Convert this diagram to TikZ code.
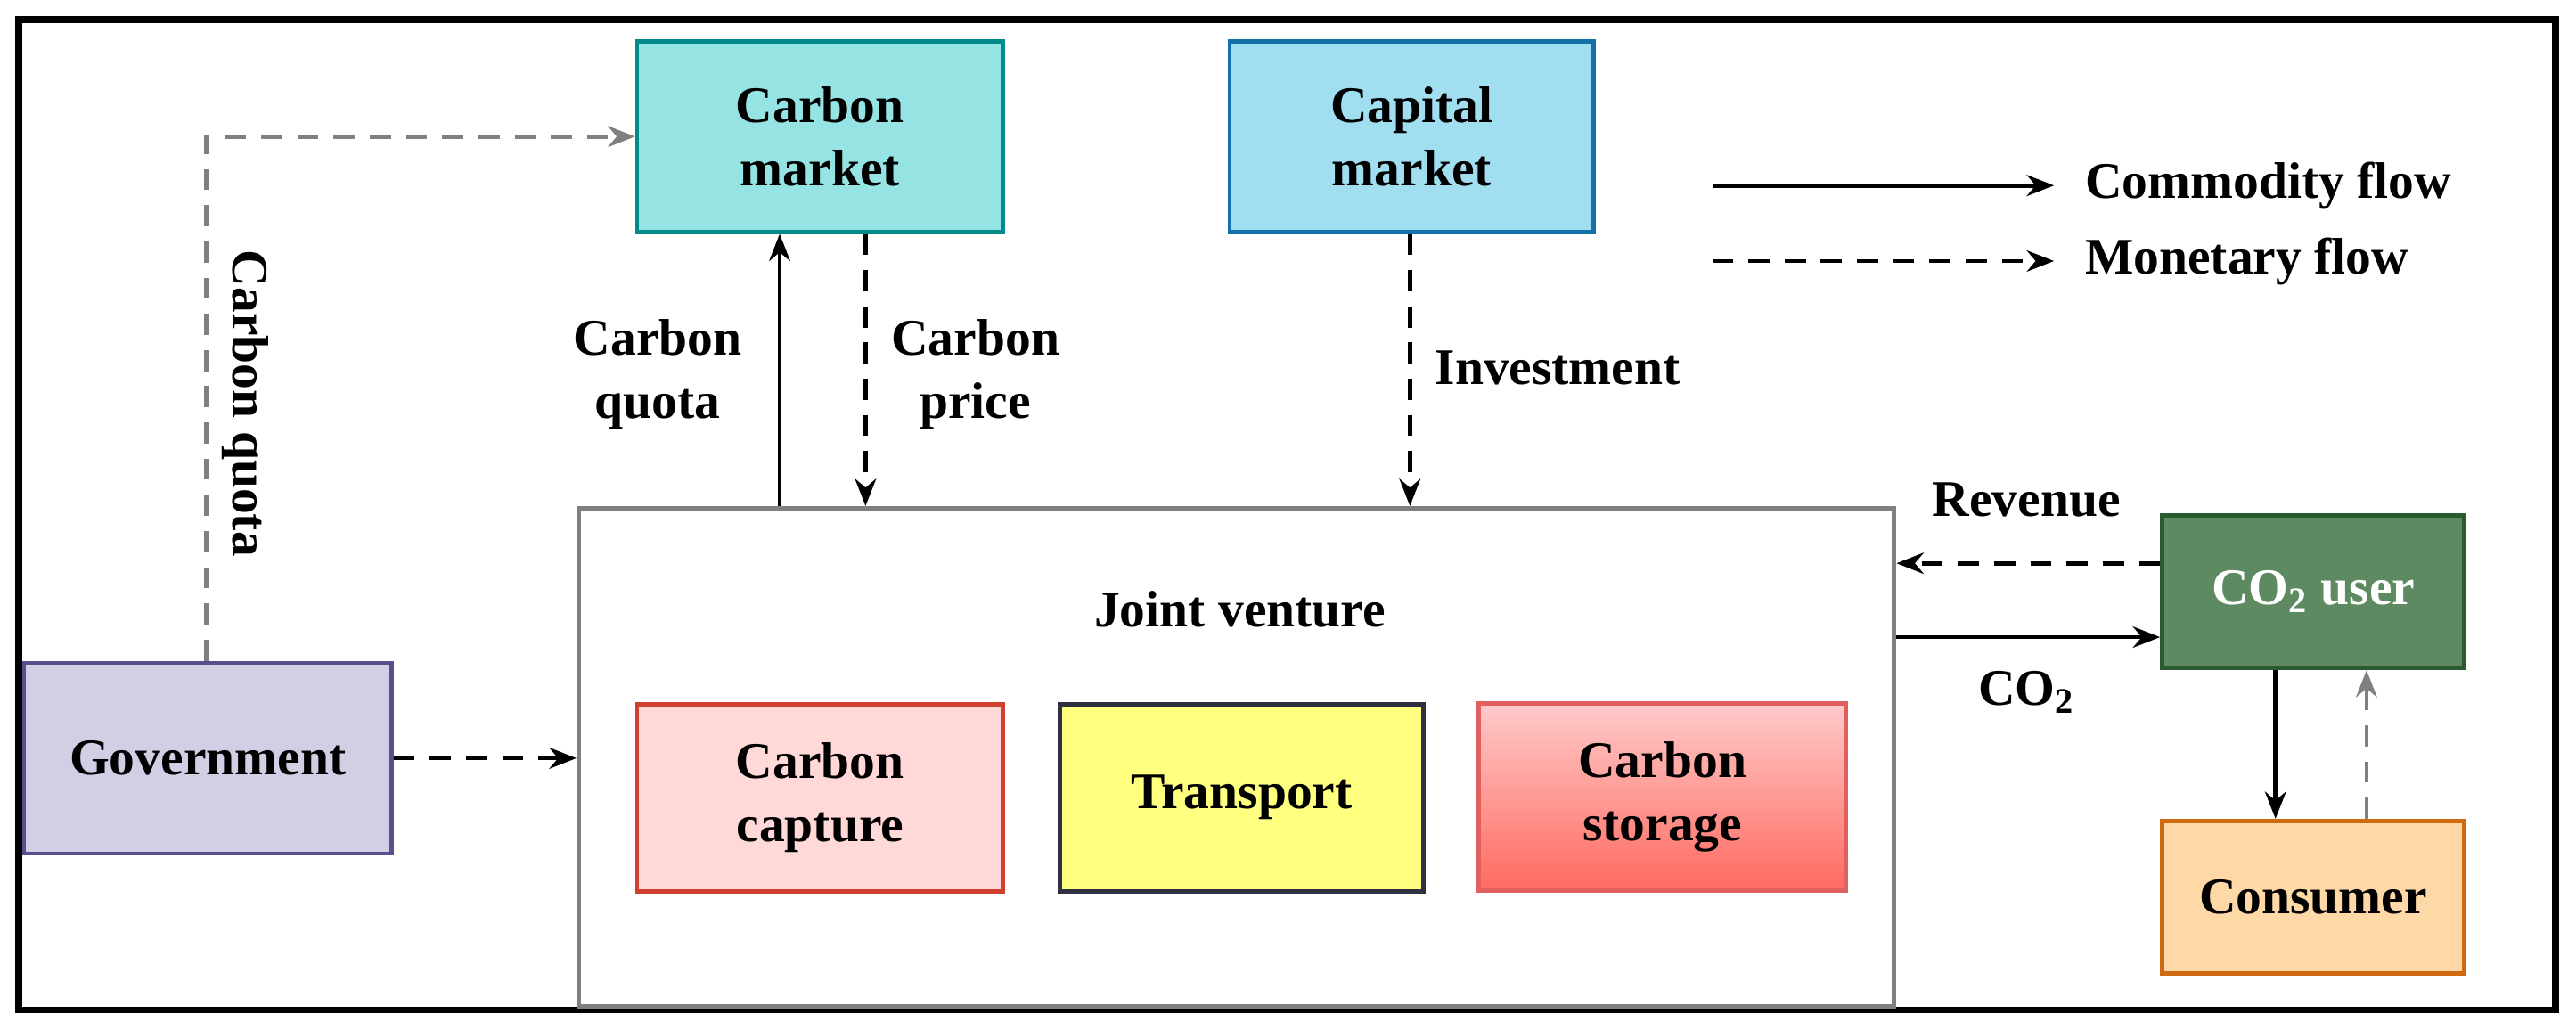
\documentclass[tikz,border=0pt]{standalone}
\usepackage{fontspec}
\setmainfont{Liberation Serif}
\usetikzlibrary{arrows.meta, positioning}
\definecolor{cmfill}{HTML}{96E3E3}
\definecolor{cmline}{HTML}{008A8A}
\definecolor{kmfill}{HTML}{A0DEF0}
\definecolor{kmline}{HTML}{1472A8}
\definecolor{govfill}{HTML}{D2CEE4}
\definecolor{govline}{HTML}{5A4E8C}
\definecolor{ccfill}{HTML}{FFD8D8}
\definecolor{ccline}{HTML}{D04030}
\definecolor{trfill}{HTML}{FFFF80}
\definecolor{trline}{HTML}{303040}
\definecolor{cstop}{HTML}{FFCACA}
\definecolor{csbot}{HTML}{FF6A60}
\definecolor{csline}{HTML}{E06060}
\definecolor{usfill}{HTML}{5E8A62}
\definecolor{usline}{HTML}{2A5A30}
\definecolor{cofill}{HTML}{FFD8A8}
\definecolor{coline}{HTML}{D06A10}
\tikzset{>={Stealth[length=9pt,width=7pt]},
box/.style={draw, line width=1.4pt, align=center, inner sep=0pt,
  font=\bfseries\fontsize{17}{21}\selectfont},
lbl/.style={align=center, font=\bfseries\fontsize{17}{21}\selectfont},
comm/.style={->, line width=1.4pt},
mon/.style={->, line width=1.4pt, dash pattern=on 7pt off 5pt},
}

\begin{document}
\begin{tikzpicture}[x=0.02cm, y=-0.02cm]
    \useasboundingbox (0,0) rectangle (1500,599.3);
    \draw[line width=2.2pt] (11,11.5) rectangle (1488,588);

    \node[box, fill=cmfill, draw=cmline, minimum width=4.26cm, minimum height=2.22cm] (cm) at (477.5,79.5) {Carbon\\market};
    \node[box, fill=kmfill, draw=kmline, minimum width=4.24cm, minimum height=2.22cm] (km) at (822,79.5) {Capital\\market};
    \node[box, fill=govfill, draw=govline, minimum width=4.28cm, minimum height=2.22cm] (gov) at (121,441.5) {Government};
    \node[box, draw=gray, line width=1.6pt, minimum width=15.32cm, minimum height=5.8cm] (jv) at (720,441) {};
    \node[lbl] (jvt) at (722,355) {Joint venture};
    \node[box, fill=ccfill, draw=ccline, minimum width=4.26cm, minimum height=2.18cm] (cc) at (477.5,464.5) {Carbon\\capture};
    \node[box, fill=trfill, draw=trline, minimum width=4.24cm, minimum height=2.18cm] (tr) at (723,464.5) {Transport};
    \node[box, top color=cstop, bottom color=csbot, draw=csline, minimum width=4.28cm, minimum height=2.18cm] (cs) at (968,464) {Carbon\\storage};
    \node[box, fill=usfill, draw=usline, text=white, minimum width=3.52cm, minimum height=1.78cm] (us) at (1347,344.5) {CO$_\mathbf{2}$ user};
    \node[box, fill=cofill, draw=coline, minimum width=3.52cm, minimum height=1.78cm] (co) at (1347,522.5) {Consumer};

    % legend
    \coordinate (l1a) at (997,108);
    \coordinate (l1b) at (1196,108);
    \coordinate (l2a) at (997,152);
    \coordinate (l2b) at (1196,152);
    \node[lbl, anchor=west] (l1) at (1208,108) {Commodity flow};
    \node[lbl, anchor=west] (l2) at (1208,152) {Monetary flow};
    \draw[comm] (l1a) -- (l1b);
    \draw[mon] (l2a) -- (l2b);

    % flows
    \coordinate (gq) at (120,79.5);
    \draw[mon, gray] (gov.north -| gq) -- (gq) -- (cm.west);
    \node[lbl, rotate=-90] (gql) at (143,235) {Carbon quota};
    \draw[comm] (jv.north -| 454,0) -- (cm.south -| 454,0);
    \node[lbl] (cql) at (383,218) {Carbon\\quota};
    \draw[mon] (cm.south -| 504,0) -- (jv.north -| 504,0);
    \node[lbl] (cpl) at (568,218) {Carbon\\price};
    \draw[mon] (km.south -| 821,0) -- (jv.north -| 821,0);
    \node[lbl] (inl) at (907,214) {Investment};
    \draw[mon] (gov.east) -- (jv.west |- gov.east);
    \draw[mon] (us.west |- 0,328) -- (jv.east |- 0,328);
    \node[lbl] (rvl) at (1180,291) {Revenue};
    \draw[comm] (jv.east |- 0,371) -- (us.west |- 0,371);
    \node[lbl] (co2l) at (1180,403) {CO$_\mathbf{2}$};
    \draw[comm] (us.south -| 1325,0) -- (co.north -| 1325,0);
    \draw[mon, gray] (co.north -| 1378,0) -- (us.south -| 1378,0);
\end{tikzpicture}
\end{document}
